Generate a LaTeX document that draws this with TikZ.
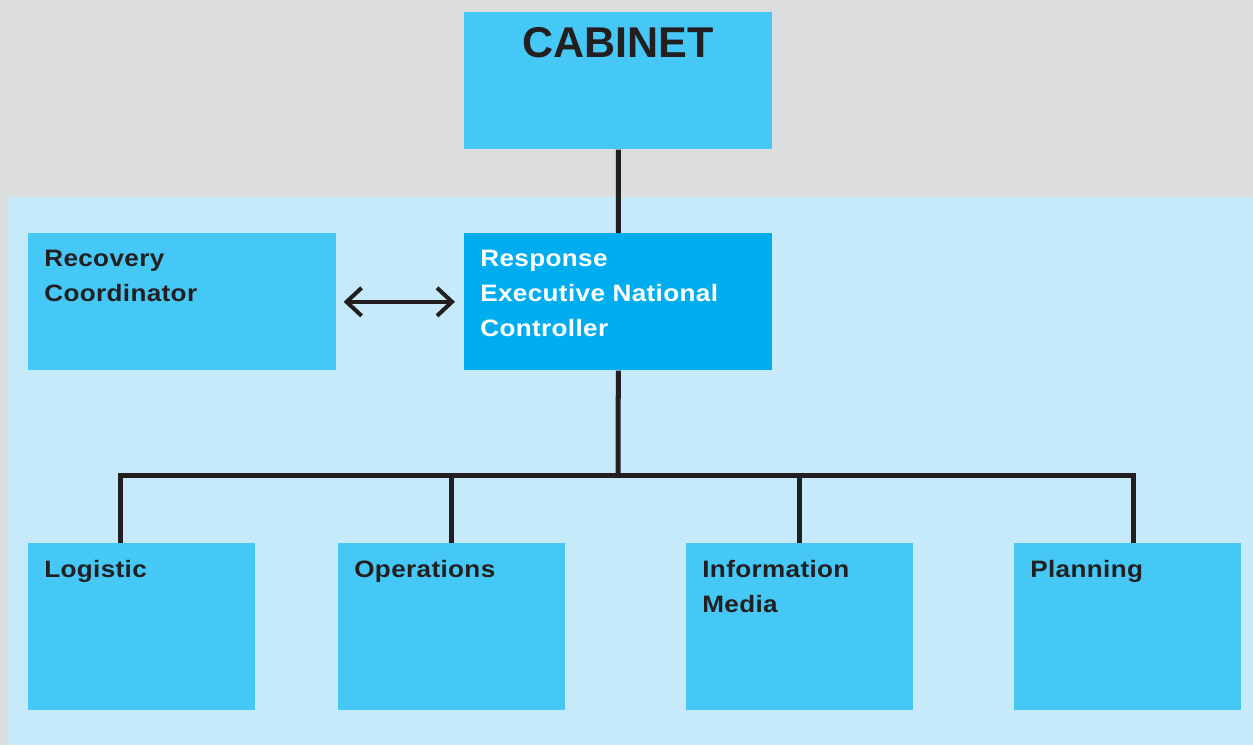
\documentclass[tikz,border=0pt]{standalone}
\usepackage{fontspec}
\setmainfont{Liberation Sans}
\newfontfamily\boxfont{Liberation Sans}[FakeStretch=1.1, LetterSpace=1.5]
\usetikzlibrary{arrows.meta}
\definecolor{greybg}{HTML}{DCDDDF}
\definecolor{paleblue}{HTML}{C6EAF9}
\definecolor{boxblue}{HTML}{45C8F5}
\definecolor{deepblue}{HTML}{00AEEF}
\definecolor{ink}{HTML}{231F20}
\tikzset{
	unit/.style={fill=boxblue, anchor=north west, inner sep=0, minimum width=6.16cm, minimum height=2.74cm},
	team/.style={unit, minimum width=4.54cm, minimum height=3.34cm},
	lbl/.style={anchor=north west, inner sep=0, align=left, text=ink, font=\boxfont\bfseries\fontsize{13.5}{19.9}\selectfont},
	link/.style={draw=ink, line width=2.85pt}
}
\begin{document}
\begin{tikzpicture}[x=0.02cm,y=-0.02cm]
		\fill[greybg] (0,0) rectangle (1253,745);
		\fill[paleblue] (7,197) rectangle (1253,745);
		% boxes
		\node[unit] (cabinet) at (464,12) {};
		\node[unit] (recovery) at (28,233) {};
		\node[unit, fill=deepblue] (response) at (464,233) {};
		\node[team] (logistic) at (28,543) {};
		\node[team] (operations) at (338,543) {};
		\node[team] (media) at (686,543) {};
		\node[team] (planning) at (1014,543) {};
		% texts
		\node[anchor=north, inner sep=0, text=ink, font=\bfseries\fontsize{24.5}{28}\selectfont] (cabinet-text) at ([yshift=-0.3cm]cabinet.north) {CABINET};
		\node[lbl] (recovery-text) at ([shift={(0.32cm,-0.34cm)}]recovery.north west) {Recovery\\Coordinator};
		\node[lbl, text=white] (response-text) at ([shift={(0.32cm,-0.34cm)}]response.north west) {Response\\Executive National\\Controller};
		\node[lbl] (logistic-text) at ([shift={(0.32cm,-0.34cm)}]logistic.north west) {Logistic};
		\node[lbl] (operations-text) at ([shift={(0.32cm,-0.34cm)}]operations.north west) {Operations};
		\node[lbl] (media-text) at ([shift={(0.32cm,-0.34cm)}]media.north west) {Information\\Media};
		\node[lbl] (planning-text) at ([shift={(0.32cm,-0.34cm)}]planning.north west) {Planning};
		% connectors
		\coordinate (hub) at (618,475);
		\draw[link] (cabinet.south) -- (response.north) (response.south) -- (hub);
		\draw[link] ([xshift=-0.43cm]logistic.north) |- (hub) -| ([xshift=0.11cm]planning.north);
		\draw[link] (operations.north) -- (operations.north |- hub);
		\draw[link] (media.north) -- (media.north |- hub);
		\draw[draw=ink, line width=2.3pt, {Straight Barb[length=0.3cm, width=0.56cm]}-{Straight Barb[length=0.3cm, width=0.56cm]}, shorten <=0.14cm, shorten >=0.18cm] (recovery.east) -- (response.west);
	\end{tikzpicture}
\end{document}
